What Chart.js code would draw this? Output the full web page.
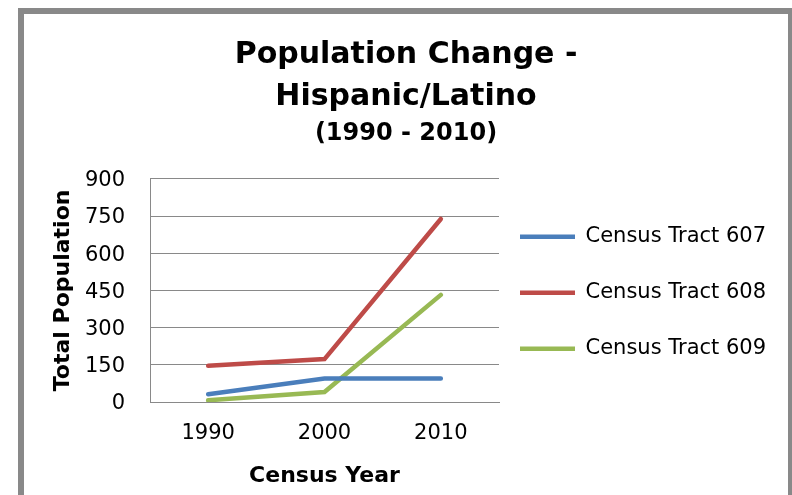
<!DOCTYPE html>
<html lang="en">
<head>
    <meta charset="UTF-8">
    <title>Population Change - Hispanic/Latino</title>
    <script src="https://cdn.jsdelivr.net/npm/chart.js"></script>
    <style>
        body { margin: 0; overflow: hidden; background: #fff; }
        #frame {
            position: absolute; left: 18px; top: 8px;
            border: 6px solid #898989;
            width: 764px; height: 490px;
        }
    </style>
</head>
<body>
    <div id="frame"><canvas id="popChart" width="764" height="490"></canvas></div>

    <script>
        const years = ['1990', '2000', '2010'];
        const tract607 = [31, 95, 95];
        const tract608 = [146, 173, 738];
        const tract609 = [7, 40, 432];

        Chart.defaults.font.family = "'DejaVu Sans', Verdana, sans-serif";
        Chart.defaults.color = '#000';

        function series(label, data, color) {
            return {
                label: label,
                data: data,
                borderColor: color,
                backgroundColor: color,
                borderWidth: 4.5,
                borderCapStyle: 'round',
                pointRadius: 0,
                tension: 0
            };
        }

        // the layout caps side boxes at a quarter of the width, which cuts the legend text
        const legendWidth = {
            id: 'legendWidth',
            beforeLayout(chart) {
                const legend = chart.legend;
                if (legend && !legend._wideFit) {
                    const fit = legend.fit;
                    legend.fit = function () {
                        fit.call(this);
                        this.width = 289;
                    };
                    legend._wideFit = true;
                }
            }
        };

        const ctx = document.getElementById('popChart').getContext('2d');
        new Chart(ctx, {
            type: 'line',
            data: {
                labels: years,
                datasets: [
                    series('Census Tract 607', tract607, '#4a7ebb'),
                    series('Census Tract 608', tract608, '#be4b48'),
                    series('Census Tract 609', tract609, '#98b954')
                ]
            },
            plugins: [legendWidth],
            options: {
                responsive: false,
                animation: false,
                plugins: {
                    title: {
                        display: true,
                        text: ['Population Change -', 'Hispanic/Latino'],
                        font: { size: 30, weight: 'bold', lineHeight: 1.4 },
                        padding: { top: 20, bottom: 0 }
                    },
                    subtitle: {
                        display: true,
                        text: '(1990 - 2010)',
                        font: { size: 24, weight: 'bold' },
                        padding: { top: 1, bottom: 31 }
                    },
                    legend: {
                        position: 'right',
                        fullSize: false,
                        align: 'start',
                        // empty title, only there as top spacing for the entries
                        title: { display: true, text: '', font: { size: 10, lineHeight: 1 }, padding: { top: 16.5, bottom: 0 } },
                        labels: {
                            usePointStyle: true,
                            pointStyle: 'line',
                            pointStyleWidth: 55,
                            padding: 21,
                            font: { size: 21, lineHeight: 1.667 },
                            generateLabels: chart =>
                                Chart.defaults.plugins.legend.labels.generateLabels(chart)
                                    .map(item => ({ ...item, text: [item.text] }))
                        }
                    },
                    tooltip: { enabled: false }
                },
                scales: {
                    x: {
                        offset: true,
                        grid: { display: false, drawTicks: false },
                        border: { color: '#898989' },
                        ticks: { padding: 19, font: { size: 21 } },
                        title: {
                            display: true,
                            text: 'Census Year',
                            font: { size: 22, weight: 'bold' },
                            padding: { top: 10, bottom: 14.8 }
                        },
                        afterFit: scale => { scale.height = 102; }
                    },
                    y: {
                        min: 0,
                        max: 900,
                        ticks: { stepSize: 150, padding: 25, labelOffset: 2, font: { size: 21 } },
                        grid: { color: '#898989', drawTicks: false },
                        border: { color: '#898989' },
                        title: {
                            display: true,
                            text: 'Total Population',
                            font: { size: 22, weight: 'bold' },
                            padding: { top: 25.8, bottom: 10 }
                        },
                        afterFit: scale => { scale.width = 126; }
                    }
                }
            }
        });
    </script>
</body>
</html>
